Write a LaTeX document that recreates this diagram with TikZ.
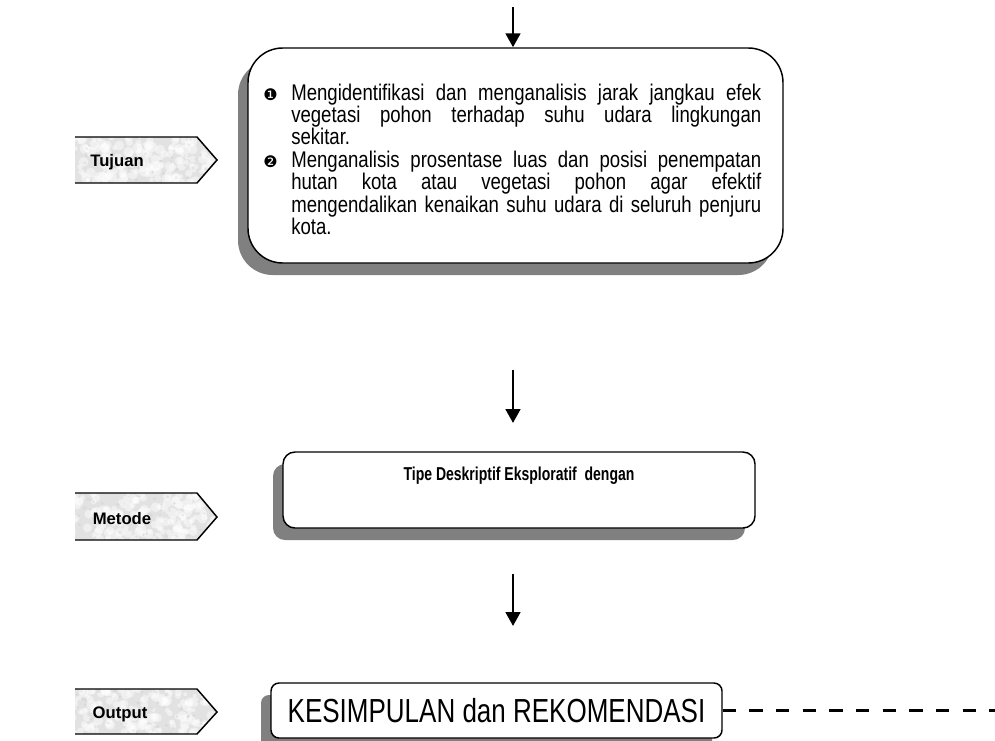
\documentclass[tikz,border=0pt]{standalone}
\usepackage{fontspec}
\setmainfont{Liberation Sans}
\newfontfamily\narrowfont{Liberation Sans}[FakeStretch=0.82]
\newfontfamily\tipefont{Liberation Sans}[FakeStretch=0.75]
\newfontfamily\kesfont{Liberation Sans}[FakeStretch=0.78]
\newfontfamily\dingfont{DejaVu Sans}
\usetikzlibrary{arrows.meta,shadows}
\definecolor{shadowgray}{HTML}{808080}
\definecolor{labelfill}{HTML}{E2E2E2}
\newcommand\jline[1]{\makebox[352.5pt][s]{#1}}
\newcommand\labelshape[3]{%
  \begin{scope}
    \clip (75,#1) -- (197,#1) -- (217,#2) -- (197,#3) -- (75,#3) -- cycle;
    \fill[labelfill] (70,#1) rectangle (220,#3);
    \foreach \i in {1,...,160}{%
      \pgfmathsetmacro\rx{72+148*rnd}%
      \pgfmathsetmacro\ry{#1+(#3-#1)*rnd}%
      \pgfmathsetmacro\rr{1.5+2.5*rnd}%
      \fill[white,opacity=0.45] (\rx,\ry) circle[radius=\rr pt];
    }
    \foreach \i in {1,...,50}{%
      \pgfmathsetmacro\rx{72+148*rnd}%
      \pgfmathsetmacro\ry{#1+(#3-#1)*rnd}%
      \fill[gray!50,opacity=0.25] (\rx,\ry) circle[radius=1.2pt];
    }
  \end{scope}
  \draw[labelborder] (75,#1) -- (197,#1) -- (217,#2) -- (197,#3) -- (75,#3);
}
\begin{document}
\begin{tikzpicture}[x=0.75pt,y=-0.75pt,
  boxstyle/.style={draw=black, line width=1.1pt, fill=white,
    drop shadow={shadow xshift=-7.5pt, shadow yshift=-9pt, opacity=1, fill=shadowgray}},
  arr/.style={line width=2.1pt, -{Triangle[width=11pt,length=10.5pt]}},
  labeltext/.style={font=\bfseries\fontsize{12.5}{14}\selectfont, inner sep=0pt},
  labelborder/.style={line width=1.1pt},
  bodytext/.style={font=\narrowfont\fontsize{17}{20}\selectfont, inner sep=0pt, anchor=base west},
  bulletstyle/.style={font=\dingfont\fontsize{12}{14}\selectfont, inner sep=0pt, anchor=base west}
]
\pgfmathsetseed{4711}
\useasboundingbox (0,0) rectangle (995,740);

% ---- labels
\labelshape{137}{160}{183}
\node[labeltext] (tujuan) at (117,162) {Tujuan};

\labelshape{493}{517}{540}
\node[labeltext] (metode) at (122,519) {Metode};

\labelshape{689}{712}{734}
\node[labeltext] (output) at (120,714) {Output};

% ---- Tujuan box
\node[boxstyle, rounded corners=26pt, minimum width=401.25pt, minimum height=161.25pt, inner sep=0pt] (tujuanbox) at (515.5,155.5) {};
\node[bulletstyle] (b1) at (263,100) {❶};
\node[bodytext] (l1) at (291,100) {\jline{Mengidentifikasi dan menganalisis jarak jangkau efek}};
\node[bodytext] (l2) at (291,122.4) {\jline{vegetasi pohon terhadap suhu udara lingkungan}};
\node[bodytext] (l3) at (291,144.8) {sekitar.};
\node[bulletstyle] (b2) at (263,167.2) {❷};
\node[bodytext] (l4) at (291,167.2) {\jline{Menganalisis prosentase luas dan posisi penempatan}};
\node[bodytext] (l5) at (291,189.6) {\jline{hutan kota atau vegetasi pohon agar efektif}};
\node[bodytext] (l6) at (291,212) {\jline{mengendalikan kenaikan suhu udara di seluruh penjuru}};
\node[bodytext] (l7) at (291,234.4) {kota.};

% ---- Metode box
\node[boxstyle, rounded corners=9pt, minimum width=354pt, minimum height=57pt, inner sep=0pt] (tipebox) at (519,490) {};
\node[font=\tipefont\bfseries\fontsize{14}{16}\selectfont, inner sep=0pt] (tipetext) at (519,476) {Tipe Deskriptif Eksploratif\ \ dengan};

% ---- Output box
\node[boxstyle, rounded corners=6pt, minimum width=338.25pt, minimum height=41.25pt, inner sep=0pt] (kesbox) at (496.5,710.5) {};
\node[font=\kesfont\fontsize{25}{28}\selectfont, inner sep=0pt] (kestext) at (496.5,711) {KESIMPULAN dan REKOMENDASI};

% ---- connectors
\coordinate (topstart) at (513,7);
\draw[arr] (topstart) -- (topstart |- tujuanbox.north);

\coordinate (a1s) at (513,370);
\coordinate (a1e) at (513,423);
\draw[arr] (a1s) -- (a1e);

\coordinate (a2s) at (513,574);
\coordinate (a2e) at (513,626);
\draw[arr] (a2s) -- (a2e);

\coordinate (dashend) at (995,710.5);
\draw[line width=2.5pt, dash pattern=on 10pt off 10pt] (kesbox.east) -- (dashend);
\end{tikzpicture}
\end{document}
